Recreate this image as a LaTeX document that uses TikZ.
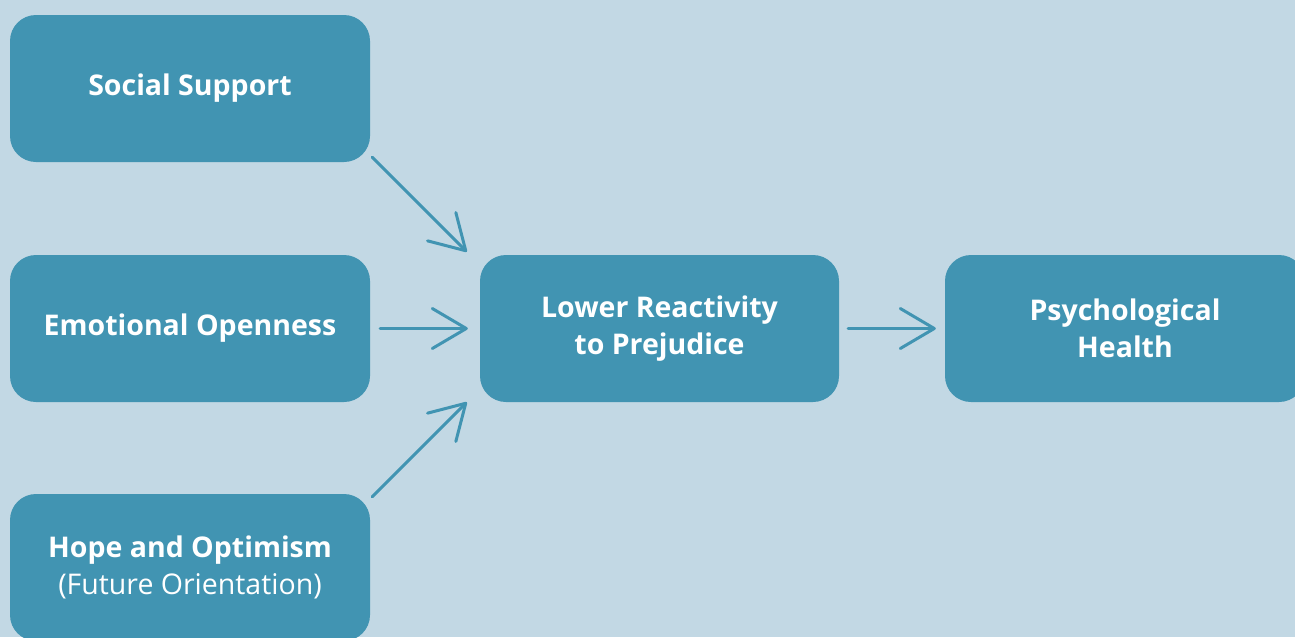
\documentclass[tikz,border=0pt]{standalone}
\usepackage{fontspec}
\setmainfont{Open Sans}
\usetikzlibrary{arrows.meta}
\definecolor{bg}{HTML}{C2D8E4}
\definecolor{boxc}{HTML}{4194B2}
\tikzset{
  box/.style={fill=boxc, draw=none, rounded corners=26pt, text=white,
    font=\fontsize{28.5}{37}\selectfont\bfseries, align=center,
    minimum height=147pt, inner sep=0pt},
  arr/.style={draw=boxc, line width=3pt, line cap=round,
    -{Straight Barb[length=34pt,width=40pt,line cap=round,line join=round]}}
}
\begin{document}
\begin{tikzpicture}[x=1pt,y=-1pt]
\useasboundingbox (0,0) rectangle (1295,637);
\fill[bg] (0,0) rectangle (1295,637);
\clip (0,0) rectangle (1295,637);
\node[box, minimum width=360pt] (ss) at (190,88.5) {Social Support};
\node[box, minimum width=360pt] (eo) at (190,328.5) {Emotional Openness};
\node[box, minimum width=360pt] (ho) at (190,567.5) {Hope and Optimism\\\mdseries(Future Orientation)};
\node[box, minimum width=359pt] (lr) at (659.5,328.5) {Lower Reactivity\\to Prejudice};
\node[box, minimum width=360pt] (ph) at (1125,328.5) {Psychological\\Health};
\draw[arr] ([xshift=2pt,yshift=5pt]ss.south east) -- ([xshift=-13pt,yshift=3pt]lr.north west);
\draw[arr] ([xshift=10pt]eo.east) -- ([xshift=-12pt]lr.west);
\draw[arr] ([xshift=2pt,yshift=-3pt]ho.north east) -- ([xshift=-13pt]lr.south west);
\draw[arr] ([xshift=9pt]lr.east) -- ([xshift=-9pt]ph.west);
\end{tikzpicture}
\end{document}
